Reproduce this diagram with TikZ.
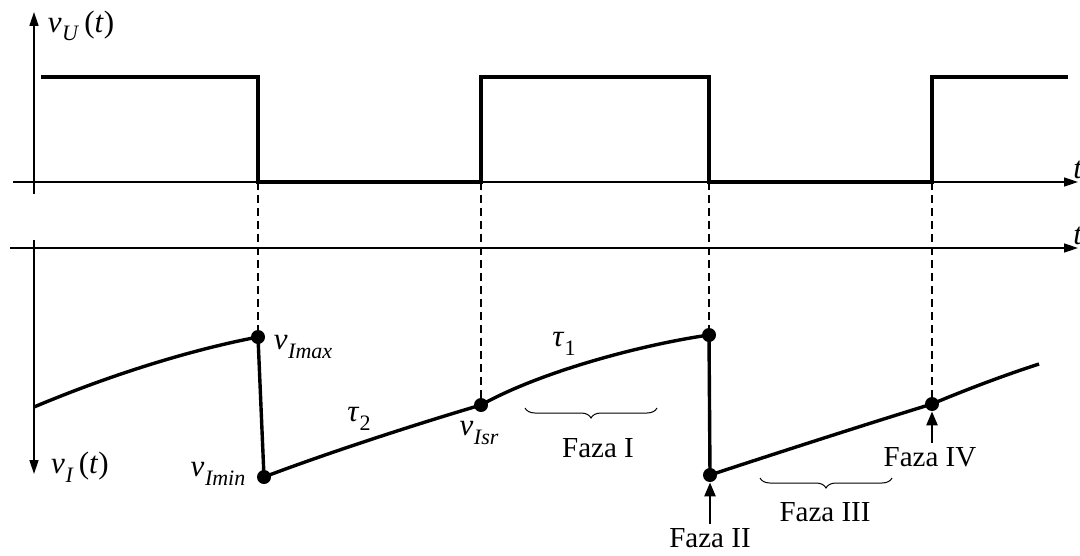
\documentclass[tikz,border=0pt]{standalone}
\usepackage{fontspec}
\setmainfont{Liberation Serif}
\usetikzlibrary{arrows.meta, decorations.pathreplacing}

\newcommand{\vsig}[1]{\textit{v}\kern0.3pt\raisebox{-0.6ex}{\fontsize{11}{11}\selectfont\textit{#1}}}
\newcommand{\tausub}[1]{\textit{τ}\raisebox{-0.6ex}{\fontsize{11}{11}\selectfont #1}}

\tikzset{
  axis/.style={line width=0.8pt, -{Triangle[length=7pt,width=4.5pt]}},
  wave/.style={line width=1.7pt},
  dot/.style={circle, fill, inner sep=0pt, minimum size=7pt},
  guide/.style={line width=0.7pt, dash pattern=on 4pt off 2.5pt},
  faza/.style={font=\fontsize{14.5}{16}\selectfont, inner sep=2pt},
  phasearrow/.style={line width=1.3pt, -{Triangle[length=7pt,width=5.5pt]}},
  lbl/.style={font=\fontsize{15.5}{17}\selectfont, inner sep=1pt},
  brc/.style={decorate, decoration={brace, amplitude=5pt}, line width=0.5pt}
}

\begin{document}
\begin{tikzpicture}[x=0.5pt, y=-0.5pt]
\useasboundingbox (0,0) rectangle (1080,556);

% upper axes
\draw[axis] (34,194) -- (34,12);
\draw[axis] (13,182) -- (1078,182);
\node[lbl] (vu) at (81,26) {\vsig{U}\,(\textit{t})};
\node[lbl] (tu) at (1078,170) {\textit{t}};

% lower axes
\draw[axis] (10,248) -- (1078,248);
\draw[axis] (34,240) -- (34,474);
\node[lbl] (vi) at (80,467) {\vsig{I}\,(\textit{t})};
\node[lbl] (ti) at (1078,236) {\textit{t}};

% square wave
\draw[wave] (41,77) -- (258,77) -- (258,182) -- (481,182) -- (481,77)
  -- (709,77) -- (709,182) -- (932,182) -- (932,77) -- (1068,77);

% points
\node[dot] (imax) at (258,337) {};
\node[dot] (imin) at (264,477) {};
\node[dot] (isr) at (481,405) {};
\node[dot] (imaxb) at (709,335) {};
\node[dot] (iminb) at (710,475) {};
\node[dot] (isrb) at (932,404) {};

% dashed guides
\foreach \x/\n in {258/imax, 481/isr, 709/imaxb, 932/isrb}
  \draw[guide] (\x,182) -- (\n);

% capacitor voltage
\coordinate (start) at (34,407);
\coordinate (end) at (1039,364);
\draw[wave] (start) .. controls (110,375) and (190,350) .. (imax.center)
  -- (imin.center) .. controls (330,452) and (420,423) .. (isr.center)
  .. controls (540,372) and (640,345) .. (imaxb.center)
  -- (iminb.center) .. controls (780,452) and (870,423) .. (isrb.center)
  .. controls (965,390) and (1005,375) .. (end);

% labels
\node[lbl] (lmax) at (303,347) {\vsig{Imax}};
\node[lbl] (lmin) at (218,474) {\vsig{Imin}};
\node[lbl] (ltau2) at (359,419) {\tausub{2}};
\node[lbl] (lsr) at (479,433) {\vsig{Isr}};
\node[lbl] (ltau1) at (564,344) {\tausub{1}};

% phases
\draw[brc] (657,408) -- (525,408);
\node[faza] (f1) at (598,448) {Faza I};
\node[faza] (f2) at (710,538) {Faza II};
\draw[phasearrow] (f2.north) -- (iminb);
\draw[brc] (892,478) -- (760,478);
\node[faza] (f3) at (825,512) {Faza III};
\node[faza] (f4) at (930,457) {Faza IV};
\draw[phasearrow] (f4.north -| isrb) -- (isrb);
\end{tikzpicture}
\end{document}
